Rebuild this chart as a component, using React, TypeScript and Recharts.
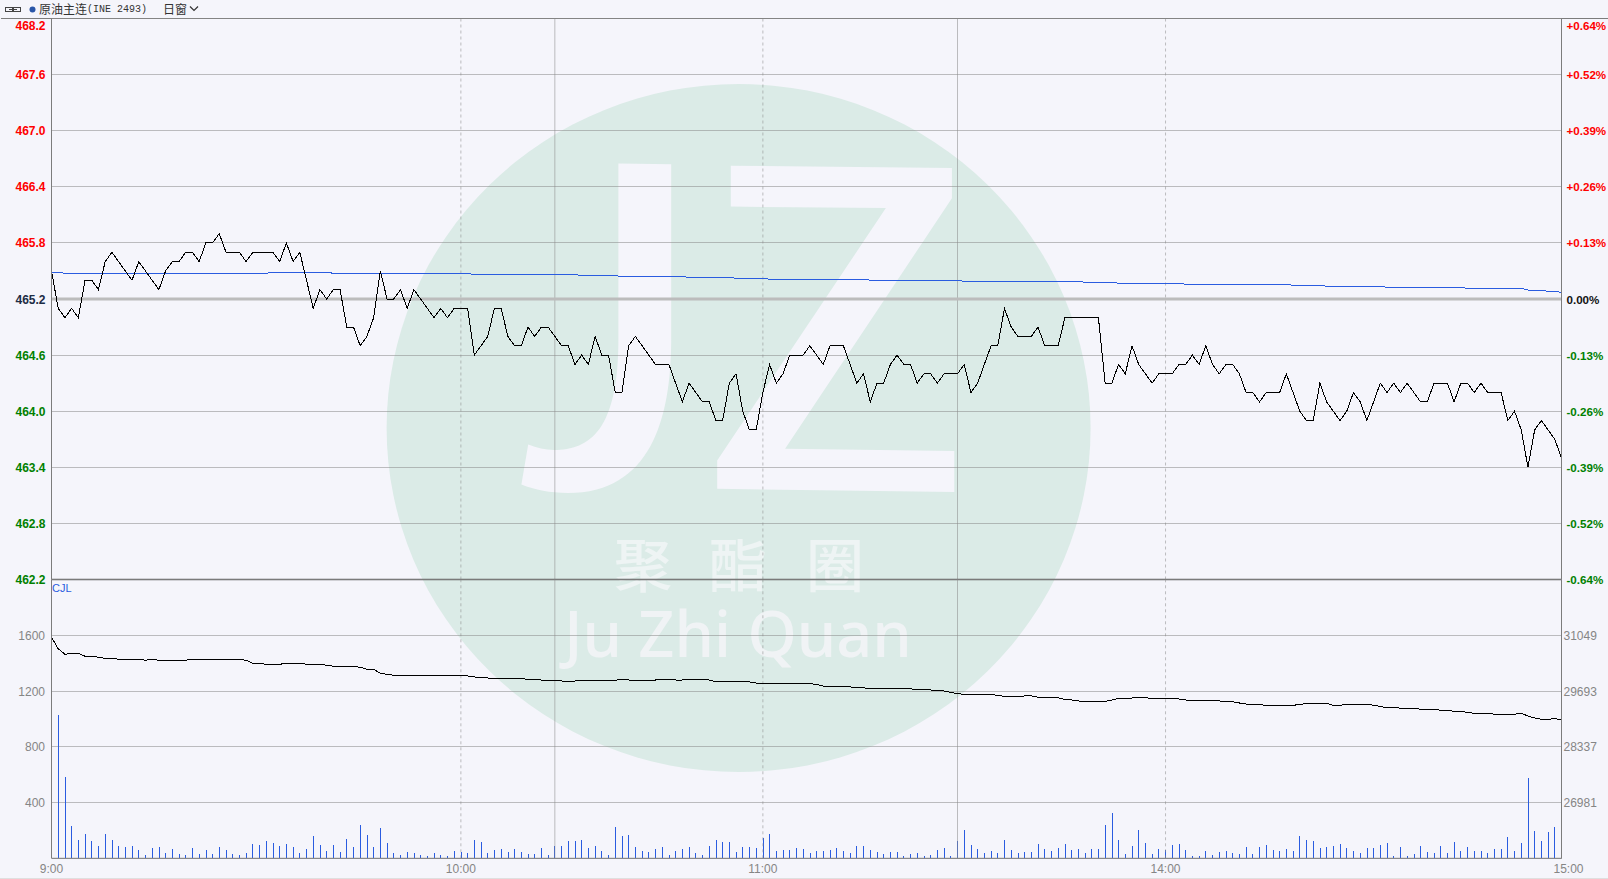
import { Bar, CartesianGrid, ComposedChart, Line, ReferenceLine, XAxis, YAxis } from "recharts";

const PRICE = [
  465.5, 465.1, 465.0, 465.1, 465.0, 465.4, 465.4, 465.3, 465.6, 465.7,
  465.6, 465.5, 465.4, 465.6, 465.5, 465.4, 465.3, 465.5, 465.6, 465.6,
  465.7, 465.7, 465.6, 465.8, 465.8, 465.9, 465.7, 465.7, 465.7, 465.6,
  465.7, 465.7, 465.7, 465.7, 465.6, 465.8, 465.6, 465.7, 465.4, 465.1,
  465.3, 465.2, 465.3, 465.3, 464.9, 464.9, 464.7, 464.8, 465.0, 465.5,
  465.2, 465.2, 465.3, 465.1, 465.3, 465.2, 465.1, 465.0, 465.1, 465.0,
  465.1, 465.1, 465.1, 464.6, 464.7, 464.8, 465.1, 465.1, 464.8, 464.7,
  464.7, 464.9, 464.8, 464.9, 464.9, 464.8, 464.7, 464.7, 464.5, 464.6,
  464.5, 464.8, 464.6, 464.6, 464.2, 464.2, 464.7, 464.8, 464.7, 464.6,
  464.5, 464.5, 464.5, 464.3, 464.1, 464.3, 464.2, 464.1, 464.1, 463.9,
  463.9, 464.3, 464.4, 464.0, 463.8, 463.8, 464.2, 464.5, 464.3, 464.4,
  464.6, 464.6, 464.6, 464.7, 464.6, 464.5, 464.7, 464.7, 464.7, 464.5,
  464.3, 464.4, 464.1, 464.3, 464.3, 464.5, 464.6, 464.5, 464.5, 464.3,
  464.4, 464.4, 464.3, 464.4, 464.4, 464.4, 464.5, 464.2, 464.3, 464.5,
  464.7, 464.7, 465.1, 464.9, 464.8, 464.8, 464.8, 464.9, 464.7, 464.7,
  464.7, 465.0, 465.0, 465.0, 465.0, 465.0, 465.0, 464.3, 464.3, 464.5,
  464.4, 464.7, 464.5, 464.4, 464.3, 464.4, 464.4, 464.4, 464.5, 464.5,
  464.6, 464.5, 464.7, 464.5, 464.4, 464.5, 464.5, 464.4, 464.2, 464.2,
  464.1, 464.2, 464.2, 464.2, 464.4, 464.2, 464.0, 463.9, 463.9, 464.3,
  464.1, 464.0, 463.9, 464.0, 464.2, 464.1, 463.9, 464.1, 464.3, 464.2,
  464.3, 464.2, 464.3, 464.2, 464.1, 464.1, 464.3, 464.3, 464.3, 464.1,
  464.3, 464.3, 464.2, 464.3, 464.2, 464.2, 464.2, 463.9, 464.0, 463.8,
  463.4, 463.8, 463.9, 463.8, 463.7, 463.5,
];

// blue average line
const AVG = [
  465.486, 465.486, 465.475, 465.475, 465.475, 465.475, 465.475, 465.475, 465.475, 465.475,
  465.475, 465.475, 465.475, 465.475, 465.475, 465.475, 465.475, 465.475, 465.475, 465.475,
  465.475, 465.475, 465.475, 465.475, 465.475, 465.475, 465.475, 465.475, 465.475, 465.475,
  465.475, 465.475, 465.475, 465.486, 465.486, 465.486, 465.486, 465.486, 465.486, 465.486,
  465.486, 465.486, 465.475, 465.475, 465.475, 465.475, 465.475, 465.475, 465.475, 465.475,
  465.475, 465.475, 465.475, 465.475, 465.475, 465.475, 465.475, 465.475, 465.475, 465.475,
  465.475, 465.475, 465.475, 465.461, 465.461, 465.461, 465.461, 465.461, 465.461, 465.461,
  465.461, 465.461, 465.461, 465.461, 465.461, 465.461, 465.461, 465.461, 465.461, 465.45,
  465.45, 465.45, 465.45, 465.45, 465.45, 465.441, 465.441, 465.441, 465.441, 465.441,
  465.441, 465.441, 465.441, 465.441, 465.441, 465.431, 465.431, 465.431, 465.431, 465.431,
  465.431, 465.431, 465.421, 465.421, 465.421, 465.421, 465.421, 465.411, 465.411, 465.411,
  465.411, 465.411, 465.411, 465.411, 465.411, 465.411, 465.411, 465.411, 465.411, 465.411,
  465.411, 465.411, 465.401, 465.401, 465.401, 465.401, 465.401, 465.401, 465.401, 465.401,
  465.401, 465.401, 465.401, 465.401, 465.401, 465.401, 465.389, 465.389, 465.389, 465.389,
  465.389, 465.389, 465.389, 465.389, 465.389, 465.389, 465.389, 465.389, 465.389, 465.389,
  465.389, 465.389, 465.389, 465.389, 465.379, 465.379, 465.379, 465.379, 465.379, 465.368,
  465.368, 465.368, 465.368, 465.368, 465.368, 465.368, 465.368, 465.368, 465.368, 465.357,
  465.357, 465.357, 465.357, 465.357, 465.357, 465.357, 465.357, 465.357, 465.357, 465.357,
  465.357, 465.357, 465.357, 465.357, 465.357, 465.347, 465.347, 465.347, 465.347, 465.347,
  465.336, 465.336, 465.336, 465.336, 465.336, 465.336, 465.336, 465.336, 465.336, 465.325,
  465.325, 465.325, 465.325, 465.325, 465.325, 465.325, 465.325, 465.325, 465.325, 465.325,
  465.325, 465.314, 465.314, 465.314, 465.314, 465.314, 465.314, 465.314, 465.314, 465.314,
  465.296, 465.296, 465.296, 465.282, 465.282, 465.271,
];

const VOLUME = [
  107, 1031, 581, 231, 131, 174, 124, 88, 174, 131,
  88, 81, 88, 60, 24, 74, 81, 38, 67, 31,
  24, 74, 31, 60, 31, 81, 60, 31, 24, 38,
  102, 95, 124, 110, 88, 102, 81, 38, 67, 160,
  95, 52, 95, 45, 138, 81, 238, 167, 81, 217,
  110, 38, 24, 45, 38, 24, 17, 38, 24, 17,
  52, 45, 38, 131, 117, 38, 60, 67, 45, 67,
  45, 31, 31, 74, 24, 88, 88, 124, 124, 131,
  74, 88, 52, 24, 224, 160, 167, 81, 52, 45,
  67, 81, 24, 52, 67, 81, 38, 24, 88, 131,
  117, 117, 45, 81, 81, 74, 145, 174, 52, 60,
  60, 74, 67, 38, 52, 52, 60, 74, 52, 38,
  88, 88, 60, 45, 31, 45, 45, 17, 31, 38,
  17, 24, 60, 74, 17, 124, 202, 95, 67, 38,
  52, 38, 131, 60, 38, 45, 45, 102, 67, 52,
  74, 102, 60, 67, 38, 67, 67, 238, 324, 131,
  31, 88, 202, 110, 31, 67, 60, 95, 102, 60,
  17, 17, 52, 24, 45, 52, 38, 31, 81, 31,
  81, 95, 60, 52, 67, 52, 160, 131, 124, 74,
  81, 88, 102, 74, 52, 38, 74, 74, 95, 110,
  17, 81, 17, 31, 88, 45, 38, 88, 38, 117,
  52, 81, 52, 52, 38, 67, 67, 152, 52, 110,
  574, 195, 124, 188, 224, 324,
];

const OPEN_INTEREST = [
  31000, 30720, 30586, 30611, 30611, 30538, 30538, 30513, 30489, 30489,
  30465, 30465, 30465, 30465, 30441, 30465, 30441, 30441, 30441, 30441,
  30441, 30465, 30465, 30465, 30465, 30465, 30465, 30465, 30465, 30441,
  30368, 30368, 30343, 30343, 30343, 30368, 30368, 30368, 30343, 30343,
  30343, 30319, 30295, 30295, 30295, 30295, 30270, 30222, 30222, 30124,
  30100, 30076, 30076, 30076, 30076, 30076, 30076, 30076, 30076, 30076,
  30076, 30076, 30059, 30034, 30027, 30010, 29986, 29986, 29986, 30003,
  29993, 29978, 29969, 29961, 29961, 29954, 29937, 29925, 29937, 29937,
  29944, 29944, 29947, 29949, 29954, 29986, 29961, 29961, 29961, 29961,
  29961, 29969, 29969, 29961, 29961, 29969, 29969, 29969, 29961, 29913,
  29913, 29913, 29913, 29913, 29913, 29888, 29869, 29888, 29888, 29888,
  29888, 29888, 29881, 29876, 29852, 29815, 29811, 29811, 29811, 29796,
  29767, 29767, 29762, 29759, 29757, 29755, 29755, 29747, 29743, 29738,
  29733, 29718, 29704, 29694, 29658, 29633, 29609, 29607, 29607, 29607,
  29607, 29590, 29563, 29563, 29565, 29573, 29573, 29541, 29529, 29529,
  29529, 29490, 29475, 29451, 29444, 29439, 29439, 29439, 29475, 29511,
  29523, 29523, 29529, 29529, 29511, 29511, 29514, 29514, 29499, 29475,
  29465, 29460, 29451, 29451, 29451, 29444, 29433, 29402, 29377, 29365,
  29360, 29346, 29346, 29346, 29346, 29346, 29365, 29394, 29394, 29394,
  29394, 29346, 29346, 29370, 29370, 29370, 29370, 29346, 29322, 29281,
  29298, 29273, 29273, 29273, 29249, 29249, 29249, 29225, 29225, 29200,
  29200, 29171, 29152, 29152, 29152, 29127, 29127, 29127, 29127, 29152,
  29086, 29037, 29006, 29006, 29021, 28996,
];

const PRICE_TICKS = [468.2, 467.6, 467.0, 466.4, 465.8, 465.2, 464.6, 464.0, 463.4, 462.8, 462.2];
const PCT_LABELS = ["+0.64%", "+0.52%", "+0.39%", "+0.26%", "+0.13%", "0.00%", "-0.13%", "-0.26%", "-0.39%", "-0.52%", "-0.64%"];
const VOL_TICKS = [400, 800, 1200, 1600];
const OI_TICKS = [26981, 28337, 29693, 31049];
const TIME_TICKS = [0, 61, 106, 166, 225];
const TIME_LABELS = ["9:00", "10:00", "11:00", "14:00", "15:00"];
const SOLID_BREAKS = [75, 135];

const BG = "#f5f5fb";
const GRID = "rgba(139,139,139,0.54)";
const AXIS = "#7c7c7c";
const RED = "#ff0000";
const GREEN = "#008000";
const GRAY = "#858585";
const BLUE = "#2a5ce0";
const SANS = "Arial, 'Liberation Sans', sans-serif";

const priceRows = PRICE.map((price, idx) => ({ idx, price, avg: AVG[idx] }));
const volRows = VOLUME.map((volume, idx) => ({ idx, volume, oi: OPEN_INTEREST[idx] }));

function tickColor(i: number) {
  if (i < 5) return RED;
  if (i > 5) return GREEN;
  return "#1c2c44";
}

function PriceTick({ x, y, payload, index }: any) {
  // the top label sits below the frame in the original
  const dy = index === 0 ? 7 : 0;
  return (
    <text x={x + 2} y={y + dy} dy={4.5} textAnchor="end" fontFamily={SANS} fontSize={12} fontWeight={700} fill={tickColor(index)}>
      {payload.value.toFixed(1)}
    </text>
  );
}

function PctTick({ x, y, index }: any) {
  const dy = index === 0 ? 7 : 0;
  return (
    <text x={x - 3} y={y + dy} dy={4.5} fontFamily={SANS} fontSize={11.6} fontWeight={700} fill={index === 5 ? "#111" : tickColor(index)}>
      {PCT_LABELS[index]}
    </text>
  );
}

function GrayTick({ x, y, payload, anchor, off }: any) {
  return (
    <text x={x + off} y={y} dy={4.5} textAnchor={anchor} fontFamily={SANS} fontSize={12} fill={GRAY}>
      {payload.value}
    </text>
  );
}

function TimeTick({ x, y, index }: any) {
  return (
    <text x={index === 4 ? x + 7 : x} y={y} dy={7} textAnchor="middle" fontFamily={SANS} fontSize={12} fill={GRAY}>
      {TIME_LABELS[index]}
    </text>
  );
}

function VolBar({ x, y, height, fill }: any) {
  if (!height) return null;
  return <rect x={Math.round(x)} y={y} width={1} height={height} fill={fill} shapeRendering="crispEdges" />;
}

function Watermark() {
  return (
    <svg width={1608} height={879} style={{ position: "absolute", left: 0, top: 0 }}>
      <ellipse cx={738.6} cy={428} rx={352} ry={344} fill="#dbebe7" />
      <path
        d="M618.4 163.4 L671.2 164.3 L671.2 339 C671.2 420 650 493 568 493 C550 493 535 490 521.4 484.6 L528.2 444.6 C537 448 545 450 554 450 C590 450 618.4 430 618.4 339 Z"
        fill={BG}
      />
      <path
        d="M730.8 165.7 L951.9 168 L951.9 198.3 L785.1 448.7 L954.3 451 L954.3 492 L717.2 488.8 L717.2 460.4 L885.9 208 L730.8 206.6 Z"
        fill={BG}
      />
      <g fontFamily="'Noto Sans CJK SC'" fontSize={58} fontWeight={500} fill="#eef4f4" textAnchor="middle">
        <text x={643} y={587}>聚</text>
        <text x={738} y={587}>酯</text>
        <text x={835} y={587}>圈</text>
      </g>
      <text x={738} y={657} textAnchor="middle" fontFamily="'Noto Sans'" fontSize={63} fontWeight={500} fill="#f0f3f5">
        Ju Zhi Quan
      </text>
    </svg>
  );
}

function Header() {
  const base = { position: "absolute", top: 1, lineHeight: "16px", color: "#333", whiteSpace: "pre" } as const;
  return (
    <>
      <svg width={40} height={18} style={{ position: "absolute", left: 0, top: 0 }}>
        <rect x={5.5} y={7.5} width={7} height={4} fill="none" stroke="#444" />
        <rect x={13.5} y={7.5} width={7} height={4} fill="none" stroke="#444" />
        <line x1={9} x2={17} y1={9.5} y2={9.5} stroke="#444" />
        <circle cx={32.5} cy={9.5} r={3} fill="#2a56a8" />
      </svg>
      <div style={{ ...base, left: 39, fontFamily: "'Noto Sans CJK SC'", fontSize: 12 }}>原油主连</div>
      <div style={{ ...base, left: 87, top: 2, fontFamily: "'Liberation Mono'", fontSize: 10 }}>(INE 2493)</div>
      <div style={{ ...base, left: 163, fontFamily: "'Noto Sans CJK SC'", fontSize: 12 }}>日窗</div>
      <svg width={12} height={18} style={{ position: "absolute", left: 188, top: 0 }}>
        <path d="M2 6.5 L6 10.5 L10 6.5" fill="none" stroke="#333" strokeWidth={1.2} />
      </svg>
      <div style={{ position: "absolute", left: 1, top: 18, width: 1607, height: 1, background: AXIS }} />
    </>
  );
}

export default function App() {
  return (
    <div style={{ position: "absolute", left: 0, top: 0, width: 1608, height: 879, background: BG, overflow: "hidden" }}>
      <style>{`.recharts-cartesian-grid line { shape-rendering: crispEdges; }`}</style>
      <Watermark />
      <Header />
      <div style={{ position: "absolute", left: 0, top: 0 }}>
        <ComposedChart width={1608} height={600} data={priceRows} margin={{ top: 18.5, right: 0, bottom: 20.5, left: 0 }}>
          <XAxis dataKey="idx" type="number" domain={[0, 225]} hide />
          <YAxis yAxisId="left" width={51.5} domain={[462.2, 468.2]} ticks={PRICE_TICKS} interval={0} tick={<PriceTick />} tickLine={false} axisLine={{ stroke: AXIS }} />
          <YAxis yAxisId="right" orientation="right" width={46.5} domain={[462.2, 468.2]} ticks={PRICE_TICKS} interval={0} tick={<PctTick />} tickLine={false} axisLine={{ stroke: AXIS }} />
          <CartesianGrid yAxisId="left" vertical={false} stroke={GRID} />
          {TIME_TICKS.slice(1, 4).map((t) => (
            <ReferenceLine key={t} yAxisId="left" x={t} stroke={GRID} strokeDasharray="3 3" />
          ))}
          {SOLID_BREAKS.map((t) => (
            <ReferenceLine key={t} yAxisId="left" x={t} stroke={GRID} />
          ))}
          <ReferenceLine yAxisId="left" y={465.2} stroke="#bcbcbc" strokeWidth={3} />
          <ReferenceLine yAxisId="left" y={462.2} stroke="#666" strokeWidth={1.5} />
          <Line yAxisId="right" dataKey="avg" stroke={BLUE} strokeWidth={1} dot={false} isAnimationActive={false} shapeRendering="crispEdges" />
          <Line yAxisId="left" dataKey="price" stroke="#000" strokeWidth={1} dot={false} isAnimationActive={false} shapeRendering="crispEdges" />
        </ComposedChart>
      </div>
      <div style={{ position: "absolute", left: 0, top: 570 }}>
        <ComposedChart width={1608} height={309} data={volRows} margin={{ top: 9.5, right: 0, bottom: 0, left: 0 }}>
          <XAxis dataKey="idx" type="number" domain={[0, 225]} ticks={TIME_TICKS} interval={0} height={20.7} tick={<TimeTick />} tickLine={false} axisLine={{ stroke: AXIS }} />
          <YAxis yAxisId="left" width={51.5} domain={[0, 2000]} ticks={VOL_TICKS} interval={0} tick={<GrayTick anchor="end" off={1.5} />} tickLine={false} axisLine={{ stroke: AXIS }} />
          <YAxis yAxisId="right" orientation="right" width={46.5} domain={[25625, 32405]} ticks={OI_TICKS} interval={0} tick={<GrayTick anchor="start" off={-6} />} tickLine={false} axisLine={{ stroke: AXIS }} />
          <CartesianGrid yAxisId="left" vertical={false} stroke={GRID} />
          {TIME_TICKS.slice(1, 4).map((t) => (
            <ReferenceLine key={t} yAxisId="left" x={t} stroke={GRID} strokeDasharray="3 3" />
          ))}
          {SOLID_BREAKS.map((t) => (
            <ReferenceLine key={t} yAxisId="left" x={t} stroke={GRID} />
          ))}
          <Bar yAxisId="left" dataKey="volume" barSize={1} fill={BLUE} shape={<VolBar />} isAnimationActive={false} />
          <Line yAxisId="right" dataKey="oi" stroke="#000" strokeWidth={1} dot={false} isAnimationActive={false} shapeRendering="crispEdges" />
        </ComposedChart>
      </div>
      <div style={{ position: "absolute", left: 52, top: 581, fontFamily: SANS, fontSize: 11, lineHeight: "14px", color: BLUE }}>CJL</div>
      <div style={{ position: "absolute", left: 0, top: 878, width: 1608, height: 1, background: "#dfdfdf" }} />
    </div>
  );
}
